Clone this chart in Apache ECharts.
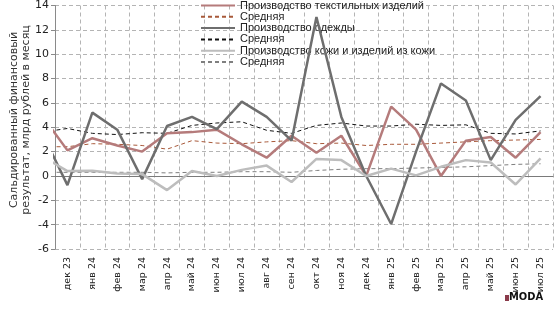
<!DOCTYPE html>
<html>
<head>
<meta charset="utf-8">
<script src="https://cdn.jsdelivr.net/npm/echarts@6/dist/echarts.min.js"></script>
<style>
  html, body { margin: 0; padding: 0; background: #fff; }
  #chart { width: 557px; height: 311px; }
</style>
</head>
<body>
<div id="chart"></div>
<script>
// months shown on the axis
var months = ['дек 23', 'янв 24', 'фев 24', 'мар 24', 'апр 24', 'май 24', 'июн 24', 'июл 24', 'авг 24', 'сен 24',
    'окт 24', 'ноя 24', 'дек 24', 'янв 25', 'фев 25', 'мар 25', 'апр 25', 'май 25', 'июн 25', 'июл 25'];

// first value of each array is ноя 23 (cut off by the left edge)
var textile = [4.9, 2.1, 3.1, 2.5, 2.0, 3.5, 3.6, 3.8, 2.6, 1.5, 3.3, 1.9, 3.3, 0.0, 5.7, 3.8, 0.0, 2.9, 3.2, 1.5, 3.6];
var textileAvg = [2.4, 2.4, 2.65, 2.6, 2.5, 2.2, 2.9, 2.7, 2.65, 2.8, 2.9, 2.65, 2.7, 2.5, 2.6, 2.6, 2.7, 2.8, 2.9, 2.95, 3.0];
var clothing = [3.45, -0.75, 5.2, 3.8, -0.26, 4.1, 4.85, 3.85, 6.1, 4.85, 2.9, 13.05, 4.85, 0.0, -3.95, 2.0, 7.6, 6.2, 1.3, 4.6, 6.55];
var clothingAvg = [3.6, 3.9, 3.5, 3.4, 3.55, 3.5, 4.15, 4.35, 4.45, 3.75, 3.5, 4.15, 4.35, 4.1, 4.1, 4.25, 4.15, 4.2, 3.5, 3.45, 3.7];
var leather = [1.6, 0.4, 0.42, 0.2, 0.15, -1.16, 0.4, 0.0, 0.5, 0.85, -0.5, 1.4, 1.3, 0.0, 0.6, 0.05, 0.75, 1.3, 1.1, -0.7, 1.45];
var leatherAvg = [0.3, 0.3, 0.3, 0.3, 0.3, 0.25, 0.3, 0.3, 0.35, 0.35, 0.3, 0.45, 0.55, 0.6, 0.6, 0.65, 0.7, 0.75, 0.85, 0.95, 1.0];

var yTicks = [-6, -4, -2, 0, 2, 4, 6, 8, 10, 12, 14];

function pts(arr) {
    return arr.map(function (v, i) { return [i - 1, v]; });
}

function line(name, arr, color, width, dashed) {
    return {
        name: name,
        type: 'line',
        xAxisIndex: 0,
        data: pts(arr),
        symbol: 'none',
        clip: true,
        lineStyle: { color: color, width: width, type: dashed ? [4, 3] : 'solid' },
        itemStyle: { color: color },
        z: dashed ? 3 : 4
    };
}

var chart = echarts.init(document.getElementById('chart'));
var fnt = 'DejaVu Sans';

chart.setOption({
    animation: false,
    grid: { left: 55, right: 4, top: 5, bottom: 62, containLabel: false },
    legend: {
        orient: 'vertical',
        left: 200,
        top: 0,
        padding: 0,
        itemWidth: 34,
        itemHeight: 11,
        itemGap: 0.3,
        itemStyle: { opacity: 0 },
        textStyle: { fontFamily: 'Liberation Sans', fontSize: 11, color: '#222', lineHeight: 11, padding: [0, 0, 0, 0] },
        data: ['Производство текстильных изделий', 'Средняя ', 'Производство одежды', 'Средняя  ',
            'Производство кожи и изделий из кожи', 'Средняя   ']
    },
    xAxis: [{
        type: 'value',
        min: -0.5,
        max: 19.5,
        interval: 1,
        axisLine: { onZero: true, lineStyle: { color: '#7a7a7a', width: 1 } },
        axisTick: { show: false },
        axisLabel: { show: false },
        splitLine: { show: true, lineStyle: { color: '#b4b4b4', type: [4, 3] } }
    }, {
        type: 'category',
        data: months,
        boundaryGap: true,
        position: 'bottom',
        axisLine: { show: false, onZero: false },
        axisTick: { show: false },
        axisLabel: { rotate: 90, margin: 8, fontFamily: fnt, fontSize: 9.5, color: '#222', interval: 0 }
    }],
    yAxis: {
        type: 'value',
        min: yTicks[0],
        max: yTicks[yTicks.length - 1],
        interval: 2,
        axisLine: { show: true, onZero: false, lineStyle: { color: '#8a8a8a' } },
        axisTick: { show: true, length: 4, lineStyle: { color: '#8a8a8a' } },
        axisLabel: { fontFamily: fnt, fontSize: 11, color: '#222', margin: 6 },
        splitLine: { lineStyle: { color: '#b4b4b4', type: [4, 3] } }
    },
    series: [
        line('Производство текстильных изделий', textile, '#b57b7b', 2.5, false),
        line('Средняя ', textileAvg, '#a8593a', 1, true),
        line('Производство одежды', clothing, '#6e6e6e', 2.5, false),
        line('Средняя  ', clothingAvg, '#111111', 1, true),
        line('Производство кожи и изделий из кожи', leather, '#bdbdbd', 2.5, false),
        line('Средняя   ', leatherAvg, '#7f7f7f', 1, true)
    ],
    graphic: [{
        type: 'text',
        x: 20,
        y: 120,
        rotation: Math.PI / 2,
        style: {
            text: 'Сальдированный финансовый\nрезультат, млрд рублей в месяц',
            font: '11px "DejaVu Sans"',
            lineHeight: 12,
            fill: '#333',
            align: 'center',
            verticalAlign: 'middle'
        }
    }, {
        type: 'rect',
        shape: { x: 505, y: 295, width: 4, height: 6 },
        style: { fill: '#8a3a4a' }
    }, {
        type: 'text',
        left: 509,
        top: 292,
        style: { text: 'MODA', font: '900 11px "DejaVu Sans Condensed"', fill: '#111' }
    }]
});
</script>
</body>
</html>
